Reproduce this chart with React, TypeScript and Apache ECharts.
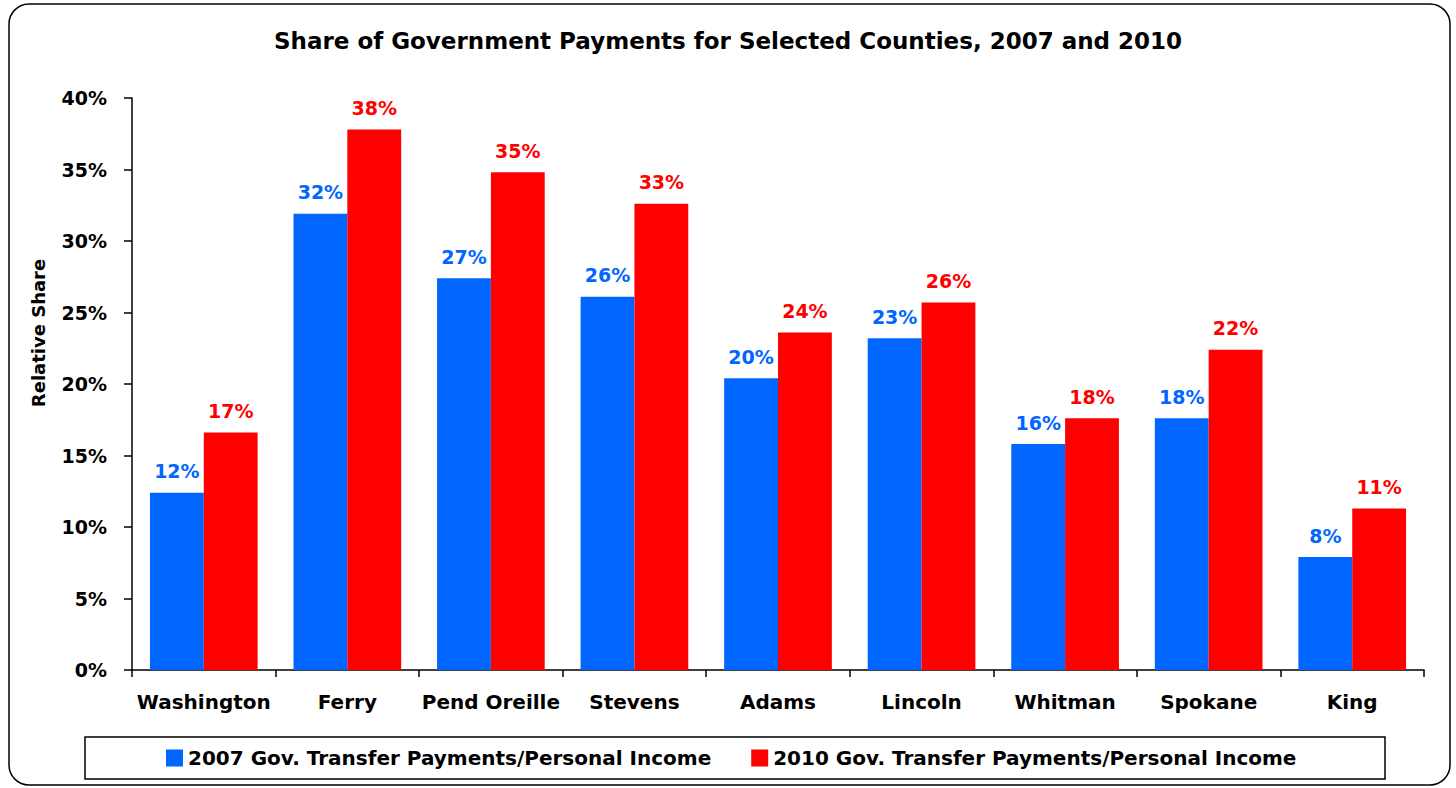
import React, { useEffect, useRef } from "react";
import * as echarts from "echarts";

const categories = ["Washington", "Ferry", "Pend Oreille", "Stevens", "Adams", "Lincoln", "Whitman", "Spokane", "King"];
const share2007 = [12.4, 31.9, 27.4, 26.1, 20.4, 23.2, 15.8, 17.6, 7.9];
const share2010 = [16.6, 37.8, 34.8, 32.6, 23.6, 25.7, 17.6, 22.4, 11.3];
const seriesNames = [
  "2007 Gov. Transfer Payments/Personal Income",
  "2010 Gov. Transfer Payments/Personal Income",
];
const titleText = "Share of Government Payments for Selected Counties, 2007 and 2010";
const yAxisName = "Relative Share";

const BLUE = "#0066FF";
const RED = "#FF0000";
const FONT = "'DejaVu Sans', Verdana, sans-serif";

export default function App() {
  const ref = useRef<HTMLDivElement>(null);
  useEffect(() => {
    document.body.style.margin = "0";
    const chart = echarts.init(ref.current!, null, { renderer: "svg" });
    const labelStyle = (color: string) => ({
      show: true,
      position: "top" as const,
      distance: 12,
      color,
      fontFamily: FONT,
      fontWeight: "bold" as const,
      fontSize: 19,
      formatter: (p: any) => Math.round(p.value) + "%",
    });
    chart.setOption({
      animation: false,
      backgroundColor: "#ffffff",
      textStyle: { fontFamily: FONT },
      title: {
        text: titleText,
        left: "center",
        top: 24,
        textStyle: { fontFamily: FONT, fontWeight: "bold", fontSize: 23, color: "#000" },
      },
      grid: { left: 132, right: 32, top: 98, bottom: 118, containLabel: false },
      legend: {
        left: 166,
        top: 748,
        padding: 0,
        itemWidth: 17,
        itemHeight: 17,
        itemGap: 40,
        icon: "rect",
        data: seriesNames,
        textStyle: { fontFamily: FONT, fontWeight: "bold", fontSize: 20, color: "#000" },
      },
      xAxis: {
        type: "category",
        data: categories,
        axisLine: { show: true, lineStyle: { color: "#000", width: 1.5 } },
        axisTick: { show: true, interval: 0, length: 7, lineStyle: { color: "#000", width: 1.5 } },
        axisLabel: { interval: 0, margin: 22, color: "#000", fontFamily: FONT, fontWeight: "bold", fontSize: 20 },
      },
      yAxis: {
        type: "value",
        min: 0,
        max: 40,
        interval: 5,
        axisLine: { show: true, lineStyle: { color: "#000", width: 1.5 } },
        axisTick: { show: true, length: 8, lineStyle: { color: "#000", width: 1.5 } },
        splitLine: { show: false },
        axisLabel: {
          margin: 25,
          color: "#000",
          fontFamily: FONT,
          fontWeight: "bold",
          fontSize: 19,
          formatter: (v: number) => v + "%",
        },
      },
      graphic: [
        {
          type: "rect",
          shape: { x: 9, y: 4, width: 1441, height: 781, r: 20 },
          style: { fill: "none", stroke: "#000", lineWidth: 1.5 },
          silent: true,
          z: -1,
        },
        {
          type: "rect",
          shape: { x: 85, y: 737, width: 1300, height: 42 },
          style: { fill: "none", stroke: "#000", lineWidth: 1.5 },
          silent: true,
        },
        {
          type: "text",
          x: 38,
          y: 333,
          rotation: Math.PI / 2,
          style: {
            text: yAxisName,
            fontFamily: FONT,
            fontWeight: "bold",
            fontSize: 18,
            fill: "#000",
            align: "center",
            verticalAlign: "middle",
          },
        },
      ],
      series: [
        {
          name: seriesNames[0],
          type: "bar",
          data: share2007,
          itemStyle: { color: BLUE },
          barGap: "0%",
          barCategoryGap: "25%",
          label: labelStyle(BLUE),
        },
        {
          name: seriesNames[1],
          type: "bar",
          data: share2010,
          itemStyle: { color: RED },
          barGap: "0%",
          barCategoryGap: "25%",
          label: labelStyle(RED),
        },
      ],
    });
    return () => chart.dispose();
  }, []);
  return <div ref={ref} style={{ width: 1456, height: 788 }} />;
}
